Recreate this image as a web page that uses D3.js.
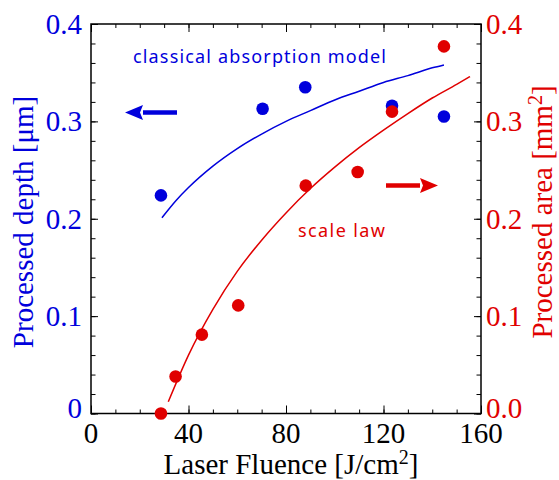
<!DOCTYPE html>
<html>
<head>
<meta charset="utf-8">
<script src="https://cdn.jsdelivr.net/npm/d3@7"></script>
<style>
  html, body { margin: 0; padding: 0; background: #fff; }
  svg { display: block; }
</style>
</head>
<body>
<svg id="chart" width="559" height="480"></svg>
<script>
// Measured data: processed depth (left axis) and processed area (right axis)
const depthFluence = [28.7, 70.4, 87.9, 123.5, 144.8];
const depthValues  = [0.224, 0.313, 0.335, 0.316, 0.305];

const areaFluence = [28.7, 34.7, 45.5, 60.4, 88.1, 109.4, 123.5, 144.8];
const areaValues  = [0.000, 0.038, 0.081, 0.111, 0.234, 0.248, 0.310, 0.377];

// Model curves
const modelFluence = [29.1, 35, 40, 50, 60, 70, 80, 90, 100, 110, 120, 130, 140, 144.8];
const modelDepth   = [0.201, 0.219, 0.232, 0.254, 0.272, 0.287, 0.300, 0.311, 0.322, 0.331, 0.340, 0.347, 0.355, 0.358];

const lawFluence = [31.7, 40, 50, 60, 70, 80, 90, 100, 110, 120, 130, 140, 150, 155.5];
const lawArea    = [0.012, 0.060, 0.107, 0.146, 0.178, 0.206, 0.231, 0.253, 0.273, 0.291, 0.308, 0.324, 0.338, 0.346];

// Axis ticks
const xTicks = [0, 40, 80, 120, 160];
const xTickLabels = ["0", "40", "80", "120", "160"];
const depthTicks = [0, 0.1, 0.2, 0.3, 0.4];
const depthTickLabels = ["0", "0.1", "0.2", "0.3", "0.4"];
const areaTicks = [0, 0.1, 0.2, 0.3, 0.4];
const areaTickLabels = ["0.0", "0.1", "0.2", "0.3", "0.4"];

const BLUE = "#0000dc";
const RED = "#e00000";
const SERIF = "'Liberation Serif', 'Times New Roman', Times, serif";
const SANS = "'Noto Sans', 'DejaVu Sans', Arial, sans-serif";
const FS = 29;

const svg = d3.select("#chart");
const plotLeft = 91, plotRight = 481, plotTop = 24, plotBottom = 413.5;

const x = d3.scaleLinear().domain([0, 160]).range([plotLeft, plotRight]);
const yDepth = d3.scaleLinear().domain([0, 0.4]).range([plotBottom, plotTop]);
const yArea = d3.scaleLinear().domain([0, 0.4]).range([plotBottom, plotTop]);

// Inward-pointing tick helper
function ticks(axisGen, g, size, values) {
  axisGen.tickValues(values).tickSize(size).tickFormat("");
  g.call(axisGen);
  g.select(".domain").remove();
  g.selectAll(".tick line").attr("stroke", "#000").attr("stroke-width", 1);
}

const minorX = d3.range(0, 161, 10);
const minorY = d3.range(0, 0.401, 0.02);

// bottom
ticks(d3.axisBottom(x), svg.append("g").attr("transform", `translate(0,${plotBottom})`), -4, minorX);
ticks(d3.axisBottom(x), svg.append("g").attr("transform", `translate(0,${plotBottom})`), -8, xTicks);
// top
ticks(d3.axisTop(x), svg.append("g").attr("transform", `translate(0,${plotTop})`), -4, minorX);
ticks(d3.axisTop(x), svg.append("g").attr("transform", `translate(0,${plotTop})`), -8, xTicks);
// left
ticks(d3.axisLeft(yDepth), svg.append("g").attr("transform", `translate(${plotLeft},0)`), -4.5, minorY);
ticks(d3.axisLeft(yDepth), svg.append("g").attr("transform", `translate(${plotLeft},0)`), -7, depthTicks);
// right
ticks(d3.axisRight(yArea), svg.append("g").attr("transform", `translate(${plotRight},0)`), -4.5, minorY);
ticks(d3.axisRight(yArea), svg.append("g").attr("transform", `translate(${plotRight},0)`), -7, areaTicks);

// frame
svg.append("rect")
  .attr("x", plotLeft).attr("y", plotTop)
  .attr("width", plotRight - plotLeft).attr("height", plotBottom - plotTop)
  .attr("fill", "none").attr("stroke", "#000").attr("stroke-width", 1.5);

// tick labels (the zero labels sit a little higher to clear the x labels)
const yLabelY = (scale, d) => scale(d) + (d === 0 ? 4 : 10);

svg.append("g").selectAll("text").data(xTicks).join("text")
  .attr("x", d => x(d)).attr("y", 443)
  .attr("text-anchor", "middle")
  .attr("font-family", SERIF).attr("font-size", FS).attr("fill", "#000")
  .text((d, i) => xTickLabels[i]);

svg.append("g").selectAll("text").data(depthTicks).join("text")
  .attr("x", 82).attr("y", d => yLabelY(yDepth, d))
  .attr("text-anchor", "end")
  .attr("font-family", SERIF).attr("font-size", FS).attr("fill", BLUE)
  .text((d, i) => depthTickLabels[i]);

svg.append("g").selectAll("text").data(areaTicks).join("text")
  .attr("x", 486).attr("y", d => yLabelY(yArea, d))
  .attr("text-anchor", "start")
  .attr("font-family", SERIF).attr("font-size", FS).attr("fill", RED)
  .text((d, i) => areaTickLabels[i]);

// axis titles
const xt = svg.append("text")
  .attr("x", 291).attr("y", 474).attr("text-anchor", "middle")
  .attr("font-family", SERIF).attr("font-size", FS).attr("fill", "#000");
xt.append("tspan").text("Laser Fluence [J/cm");
xt.append("tspan").attr("font-size", 20).attr("dy", -10).text("2");
xt.append("tspan").attr("dy", 10).text("]");

svg.append("text")
  .attr("transform", "translate(33,222) rotate(-90)")
  .attr("text-anchor", "middle")
  .attr("font-family", SERIF).attr("font-size", FS).attr("fill", BLUE)
  .text("Processed depth [μm]");

const rt = svg.append("text")
  .attr("transform", "translate(552,212) rotate(-90)")
  .attr("text-anchor", "middle")
  .attr("font-family", SERIF).attr("font-size", FS).attr("fill", RED);
rt.append("tspan").text("Processed area [mm");
rt.append("tspan").attr("font-size", 20).attr("dy", -10).text("2");
rt.append("tspan").attr("dy", 10).text("]");

// model curves
const depthLine = d3.line()
  .x((d, i) => x(modelFluence[i])).y(d => yDepth(d))
  .curve(d3.curveMonotoneX);
svg.append("path").datum(modelDepth)
  .attr("d", depthLine).attr("fill", "none")
  .attr("stroke", BLUE).attr("stroke-width", 1.5);

const areaLine = d3.line()
  .x((d, i) => x(lawFluence[i])).y(d => yArea(d))
  .curve(d3.curveMonotoneX);
svg.append("path").datum(lawArea)
  .attr("d", areaLine).attr("fill", "none")
  .attr("stroke", RED).attr("stroke-width", 1.5);

// data points
svg.append("g").selectAll("circle").data(depthValues).join("circle")
  .attr("cx", (d, i) => x(depthFluence[i])).attr("cy", d => yDepth(d))
  .attr("r", 6.3).attr("fill", BLUE);

svg.append("g").selectAll("circle").data(areaValues).join("circle")
  .attr("cx", (d, i) => x(areaFluence[i])).attr("cy", d => yArea(d))
  .attr("r", 6.3).attr("fill", RED);

// annotations
svg.append("text")
  .attr("x", 133).attr("y", 63)
  .attr("font-family", SANS).attr("font-size", 18).attr("fill", BLUE)
  .attr("textLength", 253).attr("lengthAdjust", "spacing")
  .text("classical absorption model");

svg.append("text")
  .attr("x", 298).attr("y", 237)
  .attr("font-family", SANS).attr("font-size", 18).attr("fill", RED)
  .attr("textLength", 87).attr("lengthAdjust", "spacing")
  .text("scale law");

// arrows pointing to each series' axis
function arrow(x0, x1, y, color) {
  const dir = Math.sign(x1 - x0);
  const head = 18, half = 7.5;
  const base = x1 - dir * head;
  svg.append("line")
    .attr("x1", x0).attr("y1", y).attr("x2", base).attr("y2", y)
    .attr("stroke", color).attr("stroke-width", 4.5);
  svg.append("path")
    .attr("d", `M${x1},${y} L${base},${y - half} L${base + dir * 3},${y} L${base},${y + half} Z`)
    .attr("fill", color);
}
arrow(177, 125, 112.5, BLUE);
arrow(386, 438, 185.5, RED);
</script>
</body>
</html>
